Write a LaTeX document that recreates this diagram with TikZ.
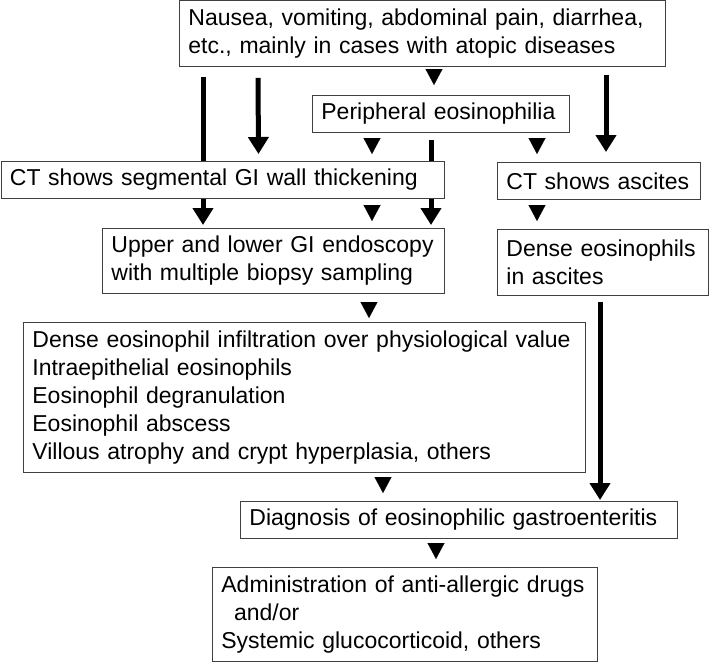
\documentclass[tikz,border=0pt]{standalone}
\usepackage{fontspec}
\setmainfont{Liberation Sans}
\usetikzlibrary{arrows.meta,backgrounds}
\tikzset{
  box/.style={draw=black!75,line width=0.8pt,fill=white,anchor=north west,
    inner xsep=9pt,inner ysep=0pt,align=left,font=\fontsize{23}{28}\selectfont},
  bigarrow/.style={line width=5pt,-{Triangle[length=17pt,width=20pt]}},
  pointer/.style={line width=0.1pt,-{Triangle[length=16pt,width=17pt]}}
}
\begin{document}
\begin{tikzpicture}[x=1pt,y=-1pt]
\useasboundingbox (0,0) rectangle (709,662);
% boxes
\node[box,text width=468pt,minimum height=66pt] (top) at (179,0)
  {Nausea, vomiting, abdominal pain, diarrhea,\\etc., mainly in cases with atopic diseases};
\node[box,text width=239pt,minimum height=37pt] (peri) at (312,95) {Peripheral eosinophilia};
\node[box,text width=425pt,minimum height=37pt] (ctseg) at (0.5,161) {CT shows segmental GI wall thickening};
\node[box,text width=185pt,minimum height=37pt] (ctasc) at (497,162) {CT shows ascites};
\node[box,text width=324pt,minimum height=65pt] (upper) at (102,228)
  {Upper and lower GI endoscopy\\with multiple biopsy sampling};
\node[box,text width=193pt,minimum height=66pt] (dense) at (497,229) {Dense eosinophils\\in ascites};
\node[box,text width=544pt,minimum height=150pt] (big) at (23,322)
  {Dense eosinophil infiltration over physiological value\\Intraepithelial eosinophils\\
   Eosinophil degranulation\\Eosinophil abscess\\Villous atrophy and crypt hyperplasia, others};
\node[box,text width=419pt,minimum height=37pt] (diag) at (240,501) {Diagnosis of eosinophilic gastroenteritis};
\node[box,text width=367pt,minimum height=94pt] (admin) at (212,567)
  {Administration of anti-allergic drugs\\\hspace*{0.55em}and/or\\Systemic glucocorticoid, others};
% arrows
\begin{scope}[on background layer]
\draw[bigarrow]([xshift=24pt,yshift=-10pt]top.south west)--([xshift=101pt,yshift=3pt]upper.north west);
\draw[bigarrow]([xshift=79pt,yshift=-11pt]top.south west)--([xshift=258pt,yshift=7pt]ctseg.north west);
\draw[bigarrow]([xshift=119pt,yshift=-7pt]peri.south west)--([xshift=329pt,yshift=3pt]upper.north west);
\draw[bigarrow]([xshift=427pt,yshift=-8pt]top.south west)--([xshift=109pt,yshift=10pt]ctasc.north west);
\draw[bigarrow]([xshift=103pt,yshift=-6pt]dense.south west)--([xshift=360pt,yshift=1pt]diag.north west);
\end{scope}
\draw[pointer]([xshift=255pt,yshift=-3pt]top.south west)--([xshift=122pt,yshift=10pt]peri.north west);
\draw[pointer]([xshift=60pt,yshift=-5pt]peri.south west)--([xshift=371.5pt,yshift=7pt]ctseg.north west);
\draw[pointer]([xshift=225pt,yshift=-5pt]peri.south west)--([xshift=40pt,yshift=8pt]ctasc.north west);
\draw[pointer]([xshift=371.5pt,yshift=-7pt]ctseg.south west)--([xshift=270pt,yshift=7pt]upper.north west);
\draw[pointer]([xshift=40pt,yshift=-6pt]ctasc.south west)--([xshift=40pt,yshift=8pt]dense.north west);
\draw[pointer]([xshift=267pt,yshift=-10pt]upper.south west)--([xshift=346pt,yshift=4pt]big.north west);
\draw[pointer]([xshift=360pt,yshift=-5pt]big.south west)--([xshift=143pt,yshift=8pt]diag.north west);
\draw[pointer]([xshift=196pt,yshift=-5pt]diag.south west)--([xshift=224pt,yshift=8pt]admin.north west);
\end{tikzpicture}
\end{document}
